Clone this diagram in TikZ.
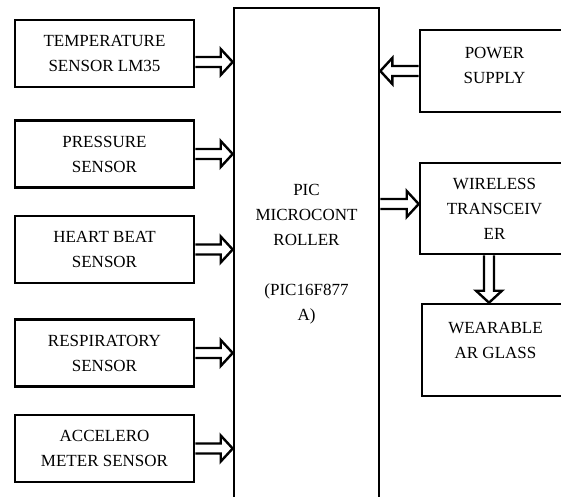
\documentclass[tikz,border=0pt]{standalone}
\usepackage{fontspec}
\setmainfont{Liberation Serif}
\usepackage{tikz}
\usetikzlibrary{calc}

\begin{document}
\begin{tikzpicture}[x=1pt, y=1pt,
  blk/.style={draw, line width=2.6pt, minimum width=179pt, minimum height=67pt, align=center, inner sep=2pt, font=\fontsize{17}{25}\selectfont},
  lbl/.style={align=center, font=\fontsize{17}{25}\selectfont},
  hollow/.style={line width=2.4pt, line join=miter, to path={let \p1=(\tikztostart), \p2=(\tikztotarget), \p3=($(\p2)!12pt!(\p1)$) in
    ($(\p1)!5pt!90:(\p2)$) -- ($(\p3)!5pt!90:(\p2)$) -- ($(\p3)!13pt!90:(\p2)$) -- (\p2)
    -- ($(\p3)!13pt!-90:(\p2)$) -- ($(\p3)!5pt!-90:(\p2)$) -- ($(\p1)!5pt!-90:(\p2)$)}}
]
  \path[use as bounding box] (0,0) rectangle (561,496);
  \clip (0,0) rectangle (561,496);

  % sensors
  \node[blk] (temp) at (104.5,442.5) {TEMPERATURE\\SENSOR LM35};
  \node[blk] (press) at (104.5,342) {PRESSURE\\SENSOR};
  \node[blk] (heart) at (104.5,246.5) {HEART BEAT\\SENSOR};
  \node[blk] (resp) at (104.5,143) {RESPIRATORY\\SENSOR};
  \node[blk] (accel) at (104.5,47.5) {ACCELERO\\METER SENSOR};

  % controller
  \node[blk, minimum width=145pt, minimum height=492pt] (pic) at (306.5,242) {PIC\\MICROCONT\\ROLLER\\[25pt](PIC16F877\\A)};

  % right side
  \node[blk, minimum width=149pt, minimum height=82pt, label={[lbl, yshift=6pt]center:{POWER\\SUPPLY}}] (power) at (494.5,425) {};
  \node[blk, minimum width=149pt, minimum height=91pt] (wireless) at (494.5,287.5) {WIRELESS\\TRANSCEIV\\ER};
  \node[blk, minimum width=147pt, minimum height=92pt, label={[lbl, yshift=10pt]center:{WEARABLE\\AR GLASS}}] (glass) at (495.5,146) {};

  % arrows
  \coordinate (tempout) at ([yshift=-8.5pt]temp.east);
  \draw[hollow] (tempout) to (tempout -| pic.west);
  \foreach \s in {press, heart, resp, accel}
    \draw[hollow] (\s.east) to (\s.east -| pic.west);
  \draw[hollow] (power.west) to (power.west -| pic.east);
  \coordinate (wlin) at ([yshift=4.5pt]wireless.west);
  \draw[hollow] (wlin -| pic.east) to (wlin);
  \coordinate (wlout) at ([xshift=-5.5pt]wireless.south);
  \draw[hollow] (wlout) to (wlout |- glass.north);
\end{tikzpicture}
\end{document}
